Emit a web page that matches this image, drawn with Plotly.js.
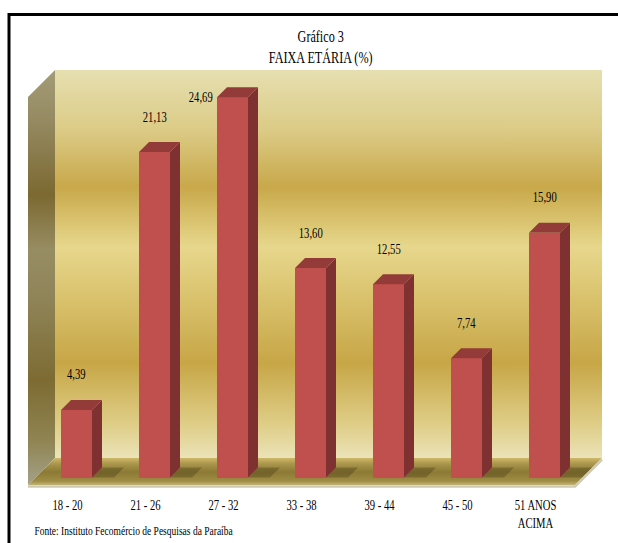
<!DOCTYPE html>
<html>
<head>
<meta charset="utf-8">
<script src="https://cdn.plot.ly/plotly-3.0.1.min.js"></script>
<style>
  html, body { margin: 0; padding: 0; background: #ffffff; }
  #chart { width: 618px; height: 543px; }
</style>
</head>
<body>
<div id="chart"></div>
<script>
// ---- data ----
const categories = ['18 - 20', '21 - 26', '27 - 32', '33 - 38', '39 - 44', '45 - 50', '51 ANOS<br>ACIMA'];
const values = [4.39, 21.13, 24.69, 13.60, 12.55, 7.74, 15.90];
const titleLines = ['Gráfico 3', 'FAIXA ETÁRIA (%)'];
const sourceNote = 'Fonte: Instituto Fecomércio de Pesquisas da Paraíba';

// ---- page geometry (pixels) ----
const W = 618, H = 543;
const area = { l: 20, r: 610, t: 60, b: 495 };
const slot = 78;      // px between category centres
const unit = 15.4;    // px per percentage point
const cx0 = 76.5;     // px centre of the first category
const base = 477.5;   // px of the zero line (front of bars)

const xr = [(area.l - cx0) / slot, (area.r - cx0) / slot];
const yr = [(base - area.b) / unit, (base - area.t) / unit];
const X = px => (px - cx0) / slot;
const Y = py => (base - py) / unit;
const PX = px => (px - area.l) / (area.r - area.l);
const PY = py => (area.b - py) / (area.b - area.t);

const FONT = 'Liberation Serif, Times New Roman, serif';

// bar box proportions
const half = 15.5 / slot;       // half of the front face width
const dx = 10 / slot;           // depth offset, horizontal
const dy = 10 / unit;           // depth offset, vertical

// gradient helper: stops given as [pixelY, colour] between two pixel rows
function scale(stops, bottomPx, topPx) {
  return stops.map(([py, c]) => [(bottomPx - py) / (bottomPx - topPx), c])
              .sort((a, b) => a[0] - b[0]);
}

// ---- room: back wall, side wall, floor ----
const room = [];
const wallTop = 70, wallBottom = 458, wallLeft = 55, wallRight = 602;
const depthPx = 27;

room.push({
  type: 'scatter', mode: 'lines', xaxis: 'x', yaxis: 'y', hoverinfo: 'skip',
  x: [X(wallLeft), X(wallRight), X(wallRight), X(wallLeft), X(wallLeft)],
  y: [Y(wallBottom), Y(wallBottom), Y(wallTop), Y(wallTop), Y(wallBottom)],
  fill: 'toself', line: { width: 0, color: 'rgba(0,0,0,0)' },
  fillgradient: {
    type: 'vertical', start: Y(wallBottom), stop: Y(wallTop),
    colorscale: scale([
      [458, '#ebe3b8'], [425, '#dfce88'], [363, '#c7a646'], [300, '#d9c16c'],
      [247, '#e7d78c'], [187, '#c8a84a'], [130, '#dccb86'], [70, '#e6dfb0']
    ], wallBottom, wallTop)
  }
});

room.push({
  type: 'scatter', mode: 'lines', xaxis: 'x', yaxis: 'y', hoverinfo: 'skip',
  x: [X(wallLeft - depthPx), X(wallLeft), X(wallLeft), X(wallLeft - depthPx), X(wallLeft - depthPx)],
  y: [Y(wallTop + depthPx), Y(wallTop), Y(wallBottom), Y(wallBottom + depthPx), Y(wallTop + depthPx)],
  fill: 'toself', line: { width: 0, color: 'rgba(0,0,0,0)' },
  fillgradient: {
    type: 'vertical', start: Y(wallBottom + depthPx), stop: Y(wallTop),
    colorscale: scale([
      [485, '#a4a188'], [440, '#8f8452'], [380, '#7d6b32'], [300, '#8f8458'],
      [250, '#978d63'], [195, '#7c6931'], [120, '#958a62'], [70, '#a49c76']
    ], wallBottom + depthPx, wallTop)
  }
});

room.push({
  type: 'scatter', mode: 'lines', xaxis: 'x', yaxis: 'y', hoverinfo: 'skip',
  x: [X(wallLeft - depthPx), X(wallLeft), X(wallRight), X(wallRight - depthPx), X(wallLeft - depthPx)],
  y: [Y(wallBottom + depthPx), Y(wallBottom), Y(wallBottom), Y(wallBottom + depthPx), Y(wallBottom + depthPx)],
  fill: 'toself', line: { width: 0, color: 'rgba(0,0,0,0)' },
  fillgradient: {
    type: 'vertical', start: Y(wallBottom + depthPx), stop: Y(wallBottom),
    colorscale: scale([
      [485, '#c2b476'], [481, '#a08d44'], [472, '#8b7935'], [464, '#a9954b'], [458, '#cdb86a']
    ], wallBottom + depthPx, wallBottom)
  }
});

// front rim of the floor
room.push({
  type: 'scatter', mode: 'lines', xaxis: 'x', yaxis: 'y', hoverinfo: 'skip',
  x: [X(wallLeft - depthPx), X(wallRight - depthPx), X(wallRight)],
  y: [Y(wallBottom + depthPx + 1.5), Y(wallBottom + depthPx + 1.5), Y(wallBottom + 1.5)],
  line: { width: 2.5, color: '#cfcab4' }
});

// soft floor shadows behind each bar
const shX = [], shY = [];
values.forEach((v, i) => {
  const a = i + half, s = 22 / slot;
  shX.push(a, a + dx, a + dx + s, a + s, a, null);
  shY.push(0, dy, dy, 0, 0, null);
});
room.push({
  type: 'scatter', mode: 'lines', xaxis: 'x', yaxis: 'y', hoverinfo: 'skip',
  x: shX, y: shY, fill: 'toself', fillcolor: 'rgba(70,58,20,0.35)',
  line: { width: 0, color: 'rgba(0,0,0,0)' }
});

// ---- bars (drawn on an overlay subplot so they sit above the room) ----
const idx = categories.map((c, i) => i);

const fronts = {
  type: 'bar', xaxis: 'x2', yaxis: 'y2', hoverinfo: 'skip',
  x: idx, y: values, width: 2 * half,
  marker: { color: '#c0504d', line: { width: 0 } }
};

const sideX = [], sideY = [], topX = [], topY = [];
values.forEach((v, i) => {
  const l = i - half, r = i + half;
  sideX.push(r, r + dx, r + dx, r, r, null);
  sideY.push(0, dy, v + dy, v, 0, null);
  topX.push(l, l + dx, r + dx, r, l, null);
  topY.push(v, v + dy, v + dy, v, v, null);
});
const sides = {
  type: 'scatter', mode: 'lines', xaxis: 'x2', yaxis: 'y2', hoverinfo: 'skip',
  x: sideX, y: sideY, fill: 'toself', fillcolor: '#7e3130',
  line: { width: 0, color: 'rgba(0,0,0,0)' }
};
const tops = {
  type: 'scatter', mode: 'lines', xaxis: 'x2', yaxis: 'y2', hoverinfo: 'skip',
  x: topX, y: topY, fill: 'toself', fillcolor: '#933b39',
  line: { width: 0, color: 'rgba(0,0,0,0)' }
};

// ---- value labels ----
const fmt = v => v.toFixed(2).replace('.', ',');
const labelGap = 35 / unit;
const annotations = values.map((v, i) => {
  const tooHigh = (base - (v + labelGap) * unit) < 75;
  return {
    xref: 'x', yref: 'y',
    x: tooHigh ? i - 32 / slot : i,
    y: tooHigh ? v : v + labelGap,
    text: fmt(v), showarrow: false,
    xanchor: 'center', yanchor: 'middle',
    font: { family: FONT, size: 14, color: '#000000' }
  };
});

annotations.push({
  xref: 'paper', yref: 'paper', x: PX(134), y: PY(531),
  xanchor: 'center', yanchor: 'middle', showarrow: false,
  text: sourceNote, font: { family: FONT, size: 12.5, color: '#000000' }
});

// ---- layout ----
const layout = {
  width: W, height: H,
  margin: { l: area.l, r: W - area.r, t: area.t, b: H - area.b, pad: 0 },
  paper_bgcolor: '#ffffff', plot_bgcolor: 'rgba(0,0,0,0)',
  showlegend: false, bargap: 0,
  title: {
    text: titleLines.join('<br>'),
    x: 315 / W, xanchor: 'center', xref: 'paper',
    y: 1 - 42 / H, yanchor: 'top', yref: 'container',
    font: { family: FONT, size: 16, color: '#000000' }
  },
  xaxis: {
    range: xr, showgrid: false, zeroline: false, showline: false, ticks: '',
    tickvals: idx.map(i => i - 9 / slot), ticktext: categories,
    tickfont: { family: FONT, size: 14, color: '#000000' }, fixedrange: true
  },
  yaxis: {
    range: yr, showgrid: false, zeroline: false, showline: false,
    showticklabels: false, ticks: '', fixedrange: true
  },
  xaxis2: { overlaying: 'x', anchor: 'y2', range: xr, visible: false },
  yaxis2: { overlaying: 'y', anchor: 'x2', range: yr, visible: false },
  annotations: annotations,
  shapes: [
    { type: 'line', xref: 'paper', yref: 'paper', x0: PX(9), x1: PX(9), y0: PY(13), y1: PY(H + 5),
      line: { color: '#000000', width: 3 } },
    { type: 'line', xref: 'paper', yref: 'paper', x0: PX(8), x1: PX(W + 5), y0: PY(14.5), y1: PY(14.5),
      line: { color: '#000000', width: 3 } }
  ]
};

Plotly.newPlot('chart', room.concat([fronts, sides, tops]), layout, { staticPlot: true, displayModeBar: false })
  .then(gd => {
    // narrow serif lettering: squeeze each text horizontally about its own centre
    const squeeze = 0.76;
    gd.querySelectorAll('.gtitle, .annotation-text, .xtick text').forEach(el => {
      const bb = el.getBBox();
      const c = bb.x + bb.width / 2;
      const t = el.getAttribute('transform') || '';
      el.setAttribute('transform', t + ' translate(' + c + ',0) scale(' + squeeze + ',1) translate(' + (-c) + ',0)');
    });
  });
</script>
</body>
</html>
